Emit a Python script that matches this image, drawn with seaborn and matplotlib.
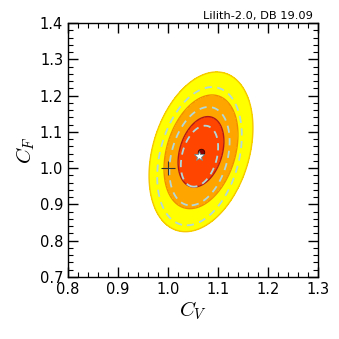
import numpy as np
import pandas as pd
import seaborn as sns
import matplotlib
matplotlib.use('Agg')
import matplotlib.pyplot as plt
from matplotlib.ticker import MultipleLocator

# fit results (C_V, C_F)
best_fit = [1.066, 1.045]
fit_sigma = [0.0302, 0.0640]
fit_rho = 0.30
prev_fit = [1.063, 1.033]
prev_sigma = [0.0246, 0.0554]
prev_rho = 0.30
sm_point = [1.0, 1.0]
cl_levels = [2.3, 5.99, 11.83]

sns.set_style('ticks')
plt.rcParams['font.family'] = ['DejaVu Sans']
plt.rcParams['mathtext.fontset'] = 'cm'
plt.rcParams['text.color'] = 'black'
plt.rcParams['axes.labelcolor'] = 'black'
plt.rcParams['xtick.color'] = 'black'
plt.rcParams['ytick.color'] = 'black'


def delta_chi2(cx, cy, center, sigma, rho):
    dx = (cx - center[0]) / sigma[0]
    dy = (cy - center[1]) / sigma[1]
    return (dx ** 2 - 2 * rho * dx * dy + dy ** 2) / (1 - rho ** 2)


xi = np.linspace(0.8, 1.3, 400)
yi = np.linspace(0.7, 1.4, 400)
X, Y = np.meshgrid(xi, yi)
Z = delta_chi2(X, Y, best_fit, fit_sigma, fit_rho)
Z_prev = delta_chi2(X, Y, prev_fit, prev_sigma, prev_rho)

fig = plt.figure(figsize=(3.39, 3.39), dpi=100)
ax = fig.add_axes([0.2006, 0.183, 0.7374, 0.749])

ax.contourf(X, Y, Z, [1e-10] + cl_levels, colors=['#ff4500', '#ffa500', '#ffff00'])
ax.contour(X, Y, Z, cl_levels, colors=['#b01818', '#f08c00', '#f5c800'], linewidths=1.0)
ax.contour(X, Y, Z_prev, cl_levels, colors='#b0d8dc', linewidths=1.3, linestyles=[(0, (4, 3))])

pts = pd.DataFrame({'cv': [best_fit[0]], 'cf': [best_fit[1]]})
sns.scatterplot(data=pts, x='cv', y='cf', ax=ax, s=22, color='#8b0000', edgecolor='#3a0000', linewidth=0.6, zorder=5)
ax.plot([prev_fit[0]], [prev_fit[1]], '*', c='w', mec='#6a8a90', mew=0.6, ms=7, zorder=6)
ax.plot([sm_point[0]], [sm_point[1]], '+', c='#333333', ms=10, mew=0.8, zorder=6)

ax.set_xlim(0.8, 1.3)
ax.set_ylim(0.7, 1.4)
ax.xaxis.set_major_locator(MultipleLocator(0.1))
ax.xaxis.set_minor_locator(MultipleLocator(0.02))
ax.yaxis.set_major_locator(MultipleLocator(0.1))
ax.yaxis.set_minor_locator(MultipleLocator(0.02))
ax.tick_params(which='both', direction='in', top=True, right=True, labelsize=10.5, color='black')
ax.tick_params(which='major', length=7, width=1)
ax.tick_params(which='minor', length=3.5, width=0.8)
for s in ax.spines.values():
    s.set_color('black')
    s.set_linewidth(1)

ax.set_xlabel(r'$C_V$', fontsize=15, labelpad=2)
ax.set_ylabel(r'$C_F$', fontsize=15, labelpad=2)
ax.text(0.98, 1.01, 'Lilith-2.0, DB 19.09', transform=ax.transAxes, ha='right', va='bottom', fontsize=8.2)

fig.savefig('out.png', dpi=100)
